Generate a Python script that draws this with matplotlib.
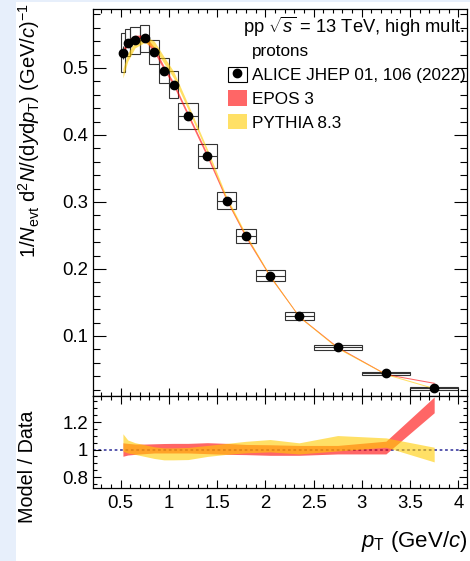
import matplotlib
matplotlib.use("Agg")
import matplotlib.pyplot as plt
from matplotlib.patches import Rectangle
from matplotlib.lines import Line2D
from matplotlib.ticker import MultipleLocator, FormatStrFormatter
import numpy as np

plt.rcParams['font.family'] = ['Liberation Sans', 'DejaVu Sans']
plt.rcParams['mathtext.fontset'] = 'custom'
plt.rcParams['mathtext.rm'] = 'Liberation Sans'
plt.rcParams['mathtext.it'] = 'Liberation Sans:italic'
plt.rcParams['mathtext.bf'] = 'Liberation Sans:bold'

# proton pT bins (GeV/c) and measured yields
bin_lo = [0.5, 0.55, 0.6, 0.7, 0.8, 0.9, 1.0, 1.1, 1.3, 1.5, 1.7, 1.9, 2.2, 2.5, 3.0, 3.5]
bin_hi = [0.55, 0.6, 0.7, 0.8, 0.9, 1.0, 1.1, 1.3, 1.5, 1.7, 1.9, 2.2, 2.5, 3.0, 3.5, 4.0]
pt = [0.525, 0.575, 0.65, 0.75, 0.85, 0.95, 1.05, 1.2, 1.4, 1.6, 1.8, 2.05, 2.35, 2.75, 3.25, 3.75]
yields = [0.523, 0.538, 0.541, 0.544, 0.524, 0.496, 0.475, 0.428, 0.369, 0.302, 0.249,
          0.190, 0.130, 0.083, 0.044, 0.022]
stat_err = [0.010, 0.004, 0.003, 0.003, 0.003, 0.003, 0.003, 0.002, 0.002, 0.002, 0.002,
            0.001, 0.001, 0.001, 0.001, 0.001]
syst_err = [0.029, 0.020, 0.020, 0.020, 0.018, 0.019, 0.020, 0.019, 0.018, 0.013, 0.010,
            0.008, 0.0057, 0.004, 0.0025, 0.002]

# model spectra (central value and half width)
epos_val = [0.525, 0.538, 0.545, 0.545, 0.527, 0.500, 0.476, 0.430, 0.369, 0.303, 0.248,
            0.189, 0.129, 0.083, 0.043, 0.030]
epos_err = [0.004, 0.004, 0.004, 0.004, 0.004, 0.003, 0.003, 0.003, 0.003, 0.002, 0.002,
            0.0015, 0.001, 0.001, 0.0008, 0.0008]
pythia_val = [0.492, 0.516, 0.535, 0.543, 0.535, 0.512, 0.490, 0.442, 0.376, 0.305, 0.250,
              0.189, 0.129, 0.082, 0.043, 0.022]
pythia_err = [0.007, 0.006, 0.005, 0.005, 0.005, 0.005, 0.005, 0.004, 0.003, 0.003, 0.002,
              0.0015, 0.001, 0.001, 0.0008, 0.0008]

# model / data bands
epos_lo = [0.951, 0.960, 0.965, 0.970, 0.975, 0.975, 0.975, 0.975, 0.970, 0.965, 0.963,
           0.958, 0.958, 0.968, 0.968, 1.268]
epos_hi = [1.049, 1.045, 1.040, 1.040, 1.042, 1.044, 1.045, 1.045, 1.050, 1.045, 1.037,
           1.035, 1.030, 1.030, 1.061, 1.383]
pythia_lo = [0.988, 0.975, 0.965, 0.950, 0.935, 0.925, 0.925, 0.927, 0.950, 0.965, 0.976,
             0.983, 0.968, 0.990, 1.017, 0.910]
pythia_hi = [1.115, 1.070, 1.050, 1.035, 1.020, 1.012, 1.012, 1.015, 1.030, 1.045, 1.060,
             1.073, 1.049, 1.102, 1.085, 1.017]

epos_color = '#ff0000'
pythia_color = '#ffcc00'
band_alpha = 0.6

W, H = 470, 561
fig = plt.figure(figsize=(W / 100, H / 100), dpi=100)
fig.patch.set_facecolor('#e7effb')
fig.patches.append(Rectangle((16 / W, 0), 1, 1 - 2 / H, transform=fig.transFigure,
                             facecolor='white', edgecolor='none', zorder=-1))

ax = fig.add_axes([93 / W, 1 - 396 / H, 374 / W, 387 / H])
ax2 = fig.add_axes([93 / W, 1 - 488 / H, 374 / W, 92 / H])

xerr = [np.array(pt) - np.array(bin_lo), np.array(bin_hi) - np.array(pt)]

# model predictions in the spectrum panel
ev, ee = np.array(epos_val), np.array(epos_err)
pv, pe = np.array(pythia_val), np.array(pythia_err)
ax.fill_between(pt, ev - ee, ev + ee, color=epos_color, alpha=band_alpha, lw=0, zorder=2)
ax.fill_between(pt, pv - pe, pv + pe, color=pythia_color, alpha=band_alpha, lw=0, zorder=2)

# systematic boxes
for lo, hi, v, s in zip(bin_lo, bin_hi, yields, syst_err):
    ax.add_patch(Rectangle((lo, v - s), hi - lo, 2 * s, facecolor='none',
                           edgecolor='#333333', lw=0.8, zorder=1.5))

ax.errorbar(pt, yields, xerr=xerr, yerr=stat_err, fmt='o', color='black', ms=6,
            ecolor='#333333', elinewidth=0.8, capsize=0, zorder=3)

ax.set_xlim(0.215, 4.09)
ax.set_ylim(0.0104, 0.588)
ax.xaxis.set_major_locator(MultipleLocator(0.5))
ax.xaxis.set_minor_locator(MultipleLocator(0.1))
ax.yaxis.set_major_locator(MultipleLocator(0.1))
ax.yaxis.set_minor_locator(MultipleLocator(0.02))
ax.yaxis.set_major_formatter(FormatStrFormatter('%g'))
ax.tick_params(which='both', direction='in', top=True, right=True, width=0.8,
               labelsize=13.4, labelbottom=False, pad=3.5)
ax.tick_params(axis='y', which='major', length=9.4)
ax.tick_params(axis='y', which='minor', length=4.7)
ax.tick_params(axis='x', which='major', length=5.8)
ax.tick_params(axis='x', which='minor', length=2.9)

fig.text(243 / W, 1 - 33 / H, r'pp $\sqrt{s}$ = 13 TeV, high mult.', fontsize=13.2,
         ha='left', va='baseline')

h_blank = Line2D([], [], ls='none')
h_data = (Rectangle((0, 0), 1, 1, facecolor='white', edgecolor='black', lw=0.8),
          Line2D([], [], marker='o', color='black', ls='none', ms=6))
h_epos = Rectangle((0, 0), 1, 1, facecolor=epos_color, alpha=band_alpha, edgecolor='none')
h_pythia = Rectangle((0, 0), 1, 1, facecolor=pythia_color, alpha=band_alpha, edgecolor='none')
ax.legend([h_blank, h_data, h_epos, h_pythia],
          ['protons', 'ALICE JHEP 01, 106 (2022)', 'EPOS 3', 'PYTHIA 8.3'],
          loc='upper left', bbox_to_anchor=(228 / W, 1 - 43 / H), bbox_transform=fig.transFigure,
          frameon=False, fontsize=12.3, handlelength=1.1, handleheight=1.0,
          handletextpad=0.3, labelspacing=0.42, borderpad=0, borderaxespad=0)

fig.text(16 / W, 1 - 3 / H,
         r'1/$N_{\rm evt}$ d$^{2}$$N$/(d$y$d$p_{\rm T}$) (GeV/$c$)$^{-1}$',
         rotation=90, ha='left', va='top', fontsize=14.5)

# ratio panel
ax2.axhline(1, color='#4b4ba8', ls=(0, (1.5, 1.5)), lw=1.3, zorder=1)
ax2.fill_between(pt, epos_lo, epos_hi, color=epos_color, alpha=band_alpha, lw=0, zorder=2)
ax2.fill_between(pt, pythia_lo, pythia_hi, color=pythia_color, alpha=band_alpha, lw=0, zorder=2)
ax2.set_xlim(0.215, 4.09)
ax2.set_ylim(0.72, 1.39)
ax2.set_yticks([0.8, 1.0, 1.2], ['0.8', '1', '1.2'])
ax2.yaxis.set_minor_locator(MultipleLocator(0.05))
ax2.xaxis.set_major_locator(MultipleLocator(0.5))
ax2.xaxis.set_minor_locator(MultipleLocator(0.1))
ax2.xaxis.set_major_formatter(FormatStrFormatter('%g'))
ax2.tick_params(which='both', direction='in', top=True, right=True, width=0.8,
                labelsize=13.4)
ax2.tick_params(which='major', length=5.8)
ax2.tick_params(which='minor', length=2.9)
ax2.tick_params(axis='x', pad=5)
ax2.tick_params(axis='y', pad=3.5)

fig.text(18 / W, 1 - 467 / H, 'Model / Data', rotation=90, ha='left', va='center',
         fontsize=14.2)
fig.text(467 / W, 1 - 547 / H, r'$p_{\rm T}$ (GeV/$c$)', ha='right', va='baseline',
         fontsize=16)

for a in (ax, ax2):
    for sp in a.spines.values():
        sp.set_linewidth(0.9)

fig.savefig('out.png', dpi=100)
